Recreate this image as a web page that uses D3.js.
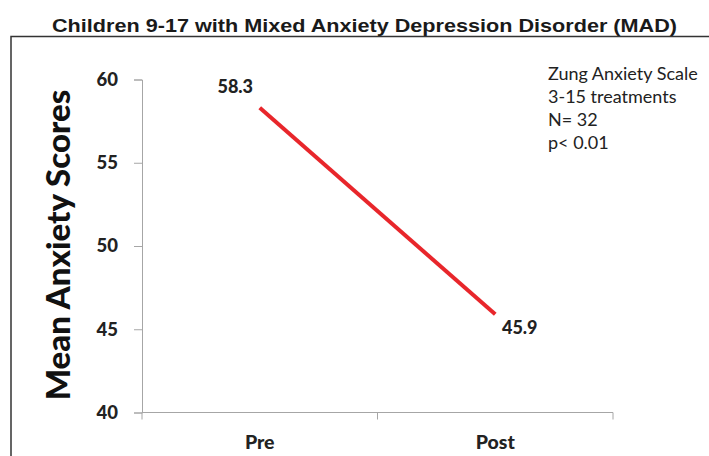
<!DOCTYPE html>
<html>
<head>
<meta charset="utf-8">
<script src="https://cdn.jsdelivr.net/npm/d3@7"></script>
<style>
  body { margin: 0; background: #fff; }
</style>
</head>
<body>
<svg></svg>
<script>
const width = 709;
const height = 456;

const categories = ['Pre', 'Post'];
const scores = [58.3, 45.9];
const yTicks = [40, 45, 50, 55, 60];
const notes = ['Zung Anxiety Scale', '3-15 treatments', 'N= 32', 'p< 0.01'];

const svg = d3.select('svg').attr('width', width).attr('height', height);

// title (the original is a bit stretched sideways)
svg.append('text')
    .attr('x', 52).attr('y', 32)
    .attr('textLength', 625)
    .attr('lengthAdjust', 'spacingAndGlyphs')
    .style('font-family', 'Liberation Sans, Arial, sans-serif')
    .style('font-weight', 'bold')
    .style('font-size', '19px')
    .style('fill', '#1a1a1a')
    .text('Children 9-17 with Mixed Anxiety Depression Disorder (MAD)');

// frame around the plot, runs off the right and bottom
svg.append('path')
    .attr('d', 'M11,' + height + 'V36.5H' + width)
    .style('fill', 'none')
    .style('stroke', '#333')
    .style('stroke-width', 1.5);

const x = d3.scaleBand().domain(categories).range([142, 613]);
const y = d3.scaleLinear().domain([40, 60]).range([412.5, 79.5]);

const tickFont = 'Lato, Open Sans, sans-serif';
const heavy = 900;
const axisGrey = '#a6a6a6';

// y axis
const yAxis = svg.append('g')
    .attr('transform', 'translate(142,0)')
    .call(d3.axisLeft(y).tickValues(yTicks).tickSize(8).tickPadding(16));
yAxis.select('.domain').style('stroke', axisGrey);
yAxis.selectAll('line').style('stroke', axisGrey);
yAxis.selectAll('text')
    .style('font-family', tickFont)
    .style('font-weight', heavy)
    .style('font-size', '18.5px')
    .style('fill', '#222');

// x axis, ticks on category edges
const xAxis = svg.append('g')
    .attr('transform', 'translate(0,412.5)');
xAxis.append('line')
    .attr('x1', 142).attr('x2', 613)
    .style('stroke', axisGrey);
xAxis.selectAll('.edge')
    .data([142, ...categories.map(c => x(c) + x.bandwidth())])
    .enter().append('line')
    .attr('class', 'edge')
    .attr('x1', d => d).attr('x2', d => d)
    .attr('y1', 0).attr('y2', 7)
    .style('stroke', axisGrey);
xAxis.selectAll('.cat')
    .data(categories)
    .enter().append('text')
    .attr('class', 'cat')
    .attr('x', d => x(d) + x.bandwidth() / 2)
    .attr('y', 36.5)
    .attr('text-anchor', 'middle')
    .style('font-family', tickFont)
    .style('font-weight', heavy)
    .style('font-size', '19.5px')
    .style('fill', '#222')
    .text(d => d);

// y axis title
svg.append('text')
    .attr('transform', 'translate(70,245) rotate(-90)')
    .attr('text-anchor', 'middle')
    .style('font-family', tickFont)
    .style('font-weight', heavy)
    .style('font-size', '33px')
    .style('fill', '#111')
    .text('Mean Anxiety Scores');

// the line
const points = categories.map((c, i) => [x(c) + x.bandwidth() / 2, y(scores[i])]);
svg.append('path')
    .datum(points)
    .attr('d', d3.line())
    .style('fill', 'none')
    .style('stroke', '#e8262b')
    .style('stroke-width', 4);

// value labels
const labelOffsets = [[-24.5, -14.5], [24.5, 20]];
svg.selectAll('.val')
    .data(scores)
    .enter().append('text')
    .attr('class', 'val')
    .attr('x', (d, i) => points[i][0] + labelOffsets[i][0])
    .attr('y', (d, i) => points[i][1] + labelOffsets[i][1])
    .attr('text-anchor', 'middle')
    .style('font-family', tickFont)
    .style('font-weight', heavy)
    .style('font-size', '18px')
    .style('fill', '#222')
    .text(d => d.toFixed(1));

// notes
svg.selectAll('.note')
    .data(notes)
    .enter().append('text')
    .attr('class', 'note')
    .attr('x', 548)
    .attr('y', (d, i) => 80 + i * 23)
    .style('font-family', tickFont)
    .style('font-size', '18px')
    .style('fill', '#222')
    .text(d => d);
</script>
</body>
</html>
